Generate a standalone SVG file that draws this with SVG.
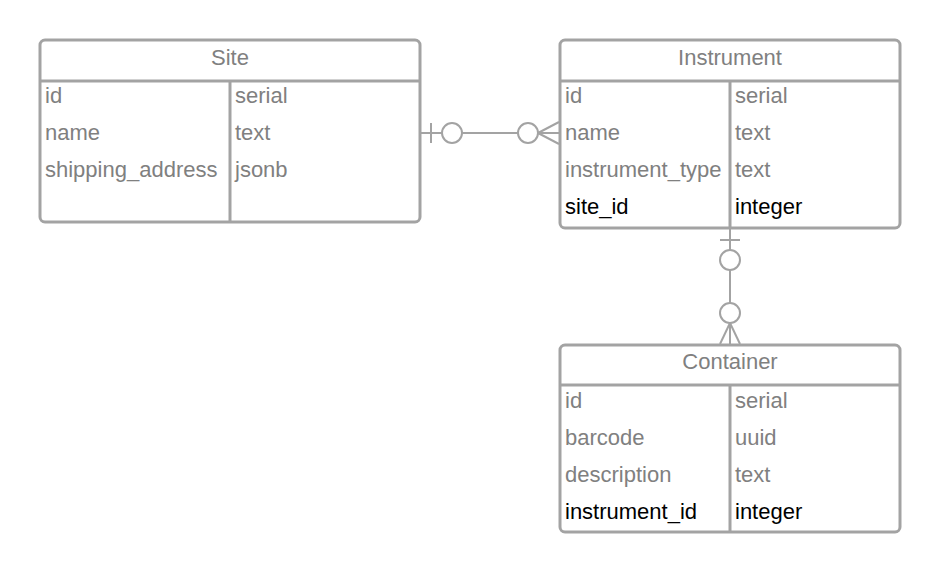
<svg xmlns="http://www.w3.org/2000/svg" width="940" height="573" viewBox="0 0 940 573">
<style>
.box{fill:#fff;stroke:#a3a3a3;stroke-width:3}
.ln{stroke:#a3a3a3;stroke-width:3;fill:none}
.cn{stroke:#a3a3a3;stroke-width:2;fill:none}
.t{font-family:"Liberation Sans",Arial,sans-serif;font-size:22px;fill:#808080}
.k{fill:#000}
.h{text-anchor:middle}
</style>
<rect width="940" height="573" fill="#fff"/>
<g id="connectors">
<g id="c1">
<line class="cn" x1="420" y1="133" x2="442" y2="133"/>
<line class="cn" x1="431" y1="123" x2="431" y2="143"/>
<circle class="cn" cx="452" cy="133" r="10"/>
<line class="cn" x1="462" y1="133" x2="518" y2="133"/>
<circle class="cn" cx="528" cy="133" r="10"/>
<line class="cn" x1="538" y1="133" x2="560" y2="133"/>
<line class="cn" x1="538" y1="133" x2="559" y2="122"/>
<line class="cn" x1="538" y1="133" x2="559" y2="144"/>
</g>
<g id="c2">
<line class="cn" x1="730" y1="228" x2="730" y2="250"/>
<line class="cn" x1="720" y1="240" x2="740" y2="240"/>
<circle class="cn" cx="730" cy="260" r="10"/>
<line class="cn" x1="730" y1="270" x2="730" y2="303"/>
<circle class="cn" cx="730" cy="313" r="10"/>
<line class="cn" x1="730" y1="323" x2="730" y2="345"/>
<line class="cn" x1="730" y1="323" x2="720" y2="344"/>
<line class="cn" x1="730" y1="323" x2="740" y2="344"/>
</g>
</g>
<g id="site">
<rect class="box" x="40" y="40" width="380" height="182" rx="5"/>
<line class="ln" x1="40" y1="81" x2="420" y2="81"/>
<line class="ln" x1="230" y1="81" x2="230" y2="222"/>
<text class="t h" x="230" y="65">Site</text>
<text class="t" x="45" y="103">id</text><text class="t" x="235" y="103">serial</text>
<text class="t" x="45" y="140">name</text><text class="t" x="235" y="140">text</text>
<text class="t" x="45" y="177">shipping_address</text><text class="t" x="235" y="177">jsonb</text>
</g>
<g id="instrument">
<rect class="box" x="560" y="40" width="340" height="188" rx="5"/>
<line class="ln" x1="560" y1="81" x2="900" y2="81"/>
<line class="ln" x1="730" y1="81" x2="730" y2="228"/>
<text class="t h" x="730" y="65">Instrument</text>
<text class="t" x="565" y="103">id</text><text class="t" x="735" y="103">serial</text>
<text class="t" x="565" y="140">name</text><text class="t" x="735" y="140">text</text>
<text class="t" x="565" y="177">instrument_type</text><text class="t" x="735" y="177">text</text>
<text class="t k" x="565" y="214">site_id</text><text class="t k" x="735" y="214">integer</text>
</g>
<g id="container">
<rect class="box" x="560" y="345" width="340" height="187" rx="5"/>
<line class="ln" x1="560" y1="385" x2="900" y2="385"/>
<line class="ln" x1="730" y1="385" x2="730" y2="532"/>
<text class="t h" x="730" y="369">Container</text>
<text class="t" x="565" y="408">id</text><text class="t" x="735" y="408">serial</text>
<text class="t" x="565" y="445">barcode</text><text class="t" x="735" y="445">uuid</text>
<text class="t" x="565" y="482">description</text><text class="t" x="735" y="482">text</text>
<text class="t k" x="565" y="519">instrument_id</text><text class="t k" x="735" y="519">integer</text>
</g>
</svg>
